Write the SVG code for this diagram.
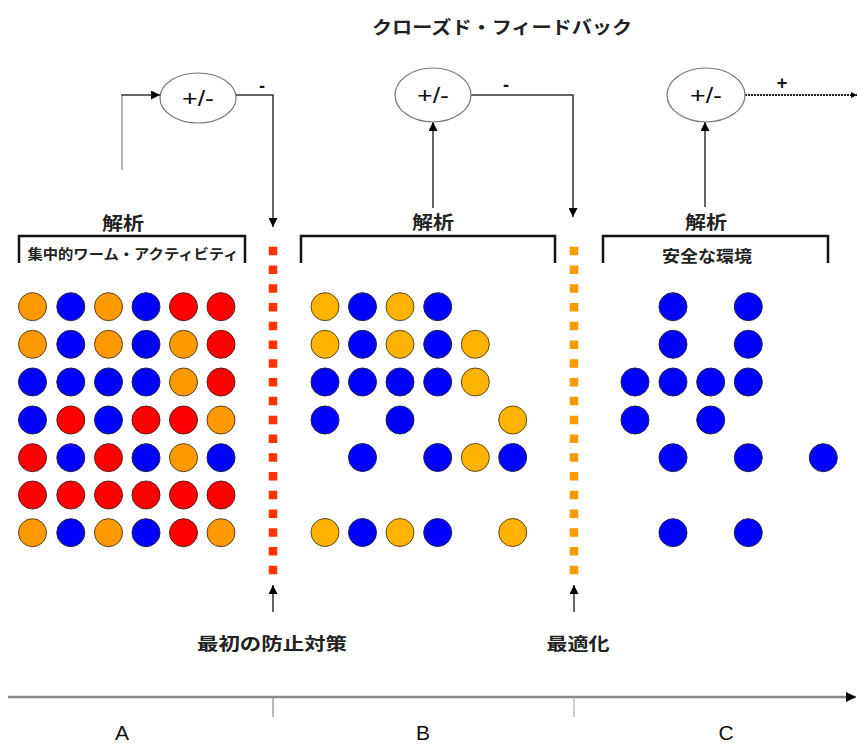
<svg xmlns="http://www.w3.org/2000/svg" width="858" height="745" viewBox="0 0 858 745">
<defs>
<marker id="ah" viewBox="0 0 10 10" refX="10" refY="5" markerWidth="9" markerHeight="9" markerUnits="userSpaceOnUse" orient="auto"><path d="M0,0 L10,5 L0,10 z" fill="#000"/></marker>
<marker id="ahs" viewBox="0 0 10 10" refX="10" refY="5" markerWidth="6" markerHeight="6" markerUnits="userSpaceOnUse" orient="auto"><path d="M0,0 L10,5 L0,10 z" fill="#000"/></marker>
<marker id="ahg" viewBox="0 0 10 10" refX="10" refY="5" markerWidth="10" markerHeight="10" markerUnits="userSpaceOnUse" orient="auto"><path d="M0,0 L10,5 L0,10 z" fill="#000"/></marker>
</defs>
<style>
.jp{font-family:"Noto Sans CJK JP","Liberation Sans",sans-serif;font-weight:bold;fill:#222}
.lat{font-family:"Liberation Sans",Arial,sans-serif;fill:#111}
.sg{font-family:"Liberation Sans",Arial,sans-serif;font-weight:bold;fill:#111}
.ell{fill:#fff;stroke:#777;stroke-width:1.2}
.ln{fill:none;stroke:#333;stroke-width:1.5}
.br{fill:none;stroke:#111;stroke-width:2.5}
.o{fill:#FF9900;stroke:#5a4020;stroke-width:1}
.y{fill:#FFB300;stroke:#5a4a20;stroke-width:1}
.r{fill:#FF0000;stroke:#5a2020;stroke-width:1}
.b{fill:#0000FF;stroke:#202050;stroke-width:1}
</style>
<rect width="858" height="745" fill="#fff"/>
<text class="jp" x="502" y="34" font-size="18" text-anchor="middle" textLength="260" lengthAdjust="spacingAndGlyphs">クローズド・フィードバック</text>

<g id="connectors">
<line x1="122" y1="170" x2="122" y2="95" stroke="#999" stroke-width="1.5"/>
<polyline class="ln" points="121.3,95 160,95" marker-end="url(#ah)"/>
<polyline class="ln" points="236,95 273,95 273,227" marker-end="url(#ah)"/>
<line class="ln" x1="433" y1="208" x2="433" y2="122" marker-end="url(#ah)"/>
<polyline class="ln" points="471,95 573,95 573,217" marker-end="url(#ah)"/>
<line class="ln" x1="705" y1="207" x2="705" y2="122" marker-end="url(#ah)"/>
<line x1="745" y1="95" x2="857" y2="95" stroke="#222" stroke-width="2.2" stroke-dasharray="2 1" marker-end="url(#ahs)"/>
<line x1="273" y1="612" x2="273" y2="585" class="ln" marker-end="url(#ah)"/>
<line x1="574" y1="612" x2="574" y2="585" class="ln" marker-end="url(#ah)"/>
<text class="sg" x="262" y="92" font-size="18" text-anchor="middle">-</text>
<text class="sg" x="506" y="91" font-size="18" text-anchor="middle">-</text>
<text class="sg" x="782" y="89" font-size="18" text-anchor="middle">+</text>
</g>

<g id="sum1"><ellipse class="ell" cx="198" cy="98" rx="38" ry="25"/><text class="lat" x="198" y="106" font-size="22" text-anchor="middle" textLength="32" lengthAdjust="spacingAndGlyphs">+/-</text></g>
<g id="sum2"><ellipse class="ell" cx="433" cy="95" rx="38" ry="27"/><text class="lat" x="433" y="103" font-size="22" text-anchor="middle" textLength="32" lengthAdjust="spacingAndGlyphs">+/-</text></g>
<g id="sum3"><ellipse class="ell" cx="706" cy="95" rx="39" ry="27"/><text class="lat" x="706" y="103" font-size="22" text-anchor="middle" textLength="32" lengthAdjust="spacingAndGlyphs">+/-</text></g>

<g id="analysis1">
<text class="jp" x="123" y="230" font-size="18" text-anchor="middle" textLength="42" lengthAdjust="spacingAndGlyphs">解析</text>
<polyline class="br" points="19,263 19,236 245,236 245,263"/>
<text class="jp" x="133" y="259" font-size="14" text-anchor="middle" textLength="211" lengthAdjust="spacingAndGlyphs">集中的ワーム・アクティビティ</text>
</g>
<g id="analysis2">
<text class="jp" x="433" y="229" font-size="18" text-anchor="middle" textLength="42" lengthAdjust="spacingAndGlyphs">解析</text>
<polyline class="br" points="301,263 301,236 555,236 555,263"/>
</g>
<g id="analysis3">
<text class="jp" x="706" y="229" font-size="18" text-anchor="middle" textLength="42" lengthAdjust="spacingAndGlyphs">解析</text>
<polyline class="br" points="603,263 603,236 828,236 828,263"/>
<text class="jp" x="707" y="262" font-size="16" text-anchor="middle" textLength="90" lengthAdjust="spacingAndGlyphs">安全な環境</text>
</g>

<g id="barrier1"><line x1="273" y1="246.7" x2="273" y2="575" stroke="#FF3300" stroke-width="8.5" stroke-dasharray="8.5 10.27"/></g>
<g id="barrier2"><line x1="574" y1="246.7" x2="574" y2="575" stroke="#FF9900" stroke-width="8.5" stroke-dasharray="8.5 10.27"/></g>

<g id="gridA">
<circle class="o" cx="32.5" cy="306.7" r="14"/><circle class="b" cx="70.8" cy="306.7" r="14"/><circle class="o" cx="108.5" cy="306.7" r="14"/><circle class="b" cx="146" cy="306.7" r="14"/><circle class="r" cx="183.5" cy="306.7" r="14"/><circle class="r" cx="221" cy="306.7" r="14"/>
<circle class="o" cx="32.5" cy="344.3" r="14"/><circle class="b" cx="70.8" cy="344.3" r="14"/><circle class="o" cx="108.5" cy="344.3" r="14"/><circle class="b" cx="146" cy="344.3" r="14"/><circle class="o" cx="183.5" cy="344.3" r="14"/><circle class="r" cx="221" cy="344.3" r="14"/>
<circle class="b" cx="32.5" cy="382" r="14"/><circle class="b" cx="70.8" cy="382" r="14"/><circle class="b" cx="108.5" cy="382" r="14"/><circle class="b" cx="146" cy="382" r="14"/><circle class="o" cx="183.5" cy="382" r="14"/><circle class="r" cx="221" cy="382" r="14"/>
<circle class="b" cx="32.5" cy="420" r="14"/><circle class="r" cx="70.8" cy="420" r="14"/><circle class="b" cx="108.5" cy="420" r="14"/><circle class="r" cx="146" cy="420" r="14"/><circle class="r" cx="183.5" cy="420" r="14"/><circle class="o" cx="221" cy="420" r="14"/>
<circle class="r" cx="32.5" cy="457.7" r="14"/><circle class="b" cx="70.8" cy="457.7" r="14"/><circle class="r" cx="108.5" cy="457.7" r="14"/><circle class="b" cx="146" cy="457.7" r="14"/><circle class="o" cx="183.5" cy="457.7" r="14"/><circle class="b" cx="221" cy="457.7" r="14"/>
<circle class="r" cx="32.5" cy="495" r="14"/><circle class="r" cx="70.8" cy="495" r="14"/><circle class="r" cx="108.5" cy="495" r="14"/><circle class="r" cx="146" cy="495" r="14"/><circle class="r" cx="183.5" cy="495" r="14"/><circle class="r" cx="221" cy="495" r="14"/>
<circle class="o" cx="32.5" cy="532.7" r="14"/><circle class="b" cx="70.8" cy="532.7" r="14"/><circle class="o" cx="108.5" cy="532.7" r="14"/><circle class="b" cx="146" cy="532.7" r="14"/><circle class="r" cx="183.5" cy="532.7" r="14"/><circle class="o" cx="221" cy="532.7" r="14"/>
</g>

<g id="gridB">
<circle class="y" cx="325" cy="306.7" r="14"/><circle class="b" cx="362.5" cy="306.7" r="14"/><circle class="y" cx="400" cy="306.7" r="14"/><circle class="b" cx="437.7" cy="306.7" r="14"/>
<circle class="y" cx="325" cy="344.3" r="14"/><circle class="b" cx="362.5" cy="344.3" r="14"/><circle class="y" cx="400" cy="344.3" r="14"/><circle class="b" cx="437.7" cy="344.3" r="14"/><circle class="y" cx="475.3" cy="344.3" r="14"/>
<circle class="b" cx="325" cy="382" r="14"/><circle class="b" cx="362.5" cy="382" r="14"/><circle class="b" cx="400" cy="382" r="14"/><circle class="b" cx="437.7" cy="382" r="14"/><circle class="y" cx="475.3" cy="382" r="14"/>
<circle class="b" cx="325" cy="420" r="14"/><circle class="b" cx="400" cy="420" r="14"/><circle class="y" cx="512.7" cy="420" r="14"/>
<circle class="b" cx="362.5" cy="457.5" r="14"/><circle class="b" cx="437.7" cy="457.5" r="14"/><circle class="y" cx="475.3" cy="457.5" r="14"/><circle class="b" cx="512.7" cy="457.5" r="14"/>
<circle class="y" cx="325" cy="532.5" r="14"/><circle class="b" cx="362.5" cy="532.5" r="14"/><circle class="y" cx="400" cy="532.5" r="14"/><circle class="b" cx="437.7" cy="532.5" r="14"/><circle class="y" cx="512.7" cy="532.5" r="14"/>
</g>

<g id="gridC">
<circle class="b" cx="673" cy="306.7" r="14"/><circle class="b" cx="748.3" cy="306.7" r="14"/>
<circle class="b" cx="673" cy="344.3" r="14"/><circle class="b" cx="748.3" cy="344.3" r="14"/>
<circle class="b" cx="635" cy="382" r="14"/><circle class="b" cx="673" cy="382" r="14"/><circle class="b" cx="710.7" cy="382" r="14"/><circle class="b" cx="748.3" cy="382" r="14"/>
<circle class="b" cx="635" cy="420" r="14"/><circle class="b" cx="710.7" cy="420" r="14"/>
<circle class="b" cx="673" cy="457.7" r="14"/><circle class="b" cx="748.3" cy="457.7" r="14"/><circle class="b" cx="823.3" cy="457.7" r="14"/>
<circle class="b" cx="673" cy="532.7" r="14"/><circle class="b" cx="748.3" cy="532.7" r="14"/>
</g>

<g id="label-prevention"><text class="jp" x="272" y="650" font-size="17" text-anchor="middle" textLength="150" lengthAdjust="spacingAndGlyphs">最初の防止対策</text></g>
<g id="label-optimize"><text class="jp" x="578" y="650" font-size="17" text-anchor="middle" textLength="63" lengthAdjust="spacingAndGlyphs">最適化</text></g>

<g id="timeline">
<line x1="8" y1="697" x2="856" y2="697" stroke="#888" stroke-width="2.7" marker-end="url(#ahg)"/>
<line x1="273" y1="697" x2="273" y2="717" stroke="#888" stroke-width="1.2"/>
<line x1="574" y1="697" x2="574" y2="717" stroke="#aaa" stroke-width="1.2"/>
<text class="lat" x="122" y="740" font-size="21" text-anchor="middle">A</text>
<text class="lat" x="423" y="740" font-size="21" text-anchor="middle">B</text>
<text class="lat" x="726" y="740" font-size="21" text-anchor="middle">C</text>
</g>
</svg>
